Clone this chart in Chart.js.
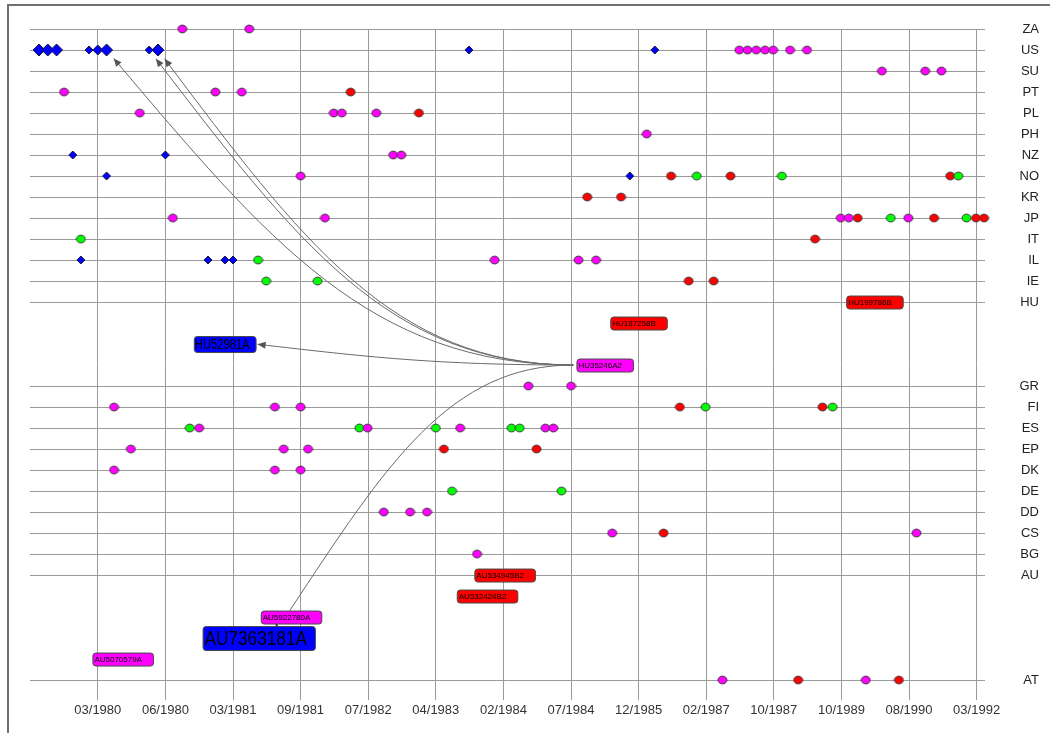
<!DOCTYPE html>
<html>
<head>
<meta charset="utf-8">
<script src="https://cdn.jsdelivr.net/npm/chart.js@4.4.1/dist/chart.umd.min.js"></script>
<style>
  html, body { margin: 0; padding: 0; background: #fff; overflow: hidden; }
  #wrap { position: relative; width: 1050px; height: 733px; }
</style>
</head>
<body>
<div id="wrap"><canvas id="citeChart"></canvas></div>
<script>
// x values are in "tick units": 0 = first date tick, 1 = next one, ...
const dateTicks = ["03/1980", "06/1980", "03/1981", "09/1981", "07/1982", "04/1983", "02/1984",
  "07/1984", "12/1985", "02/1987", "10/1987", "10/1989", "08/1990", "03/1992"];

// rows top to bottom, empty strings are free rows used by the document labels
const countryRows = ["ZA", "US", "SU", "PT", "PL", "PH", "NZ", "NO", "KR", "JP", "IT", "IL", "IE", "HU",
  "", "", "", "GR", "FI", "ES", "EP", "DK", "DE", "DD", "CS", "BG", "AU", "", "", "", "", "AT"];

const magentaDocs = [
  ["ZA", 1.25], ["ZA", 2.24],
  ["US", 9.49], ["US", 9.61], ["US", 9.74], ["US", 9.87], ["US", 9.99], ["US", 10.24], ["US", 10.49],
  ["SU", 11.6], ["SU", 12.24], ["SU", 12.48],
  ["PT", -0.5], ["PT", 1.74], ["PT", 2.13],
  ["PL", 0.62], ["PL", 3.49], ["PL", 3.61], ["PL", 4.12],
  ["PH", 8.12],
  ["NZ", 4.37], ["NZ", 4.49],
  ["NO", 3.0],
  ["JP", 1.11], ["JP", 3.36], ["JP", 10.99], ["JP", 11.11], ["JP", 11.99],
  ["IL", 5.87], ["IL", 7.11], ["IL", 7.37],
  ["GR", 6.37], ["GR", 7.0],
  ["FI", 0.24], ["FI", 2.62], ["FI", 3.0],
  ["ES", 1.5], ["ES", 3.99], ["ES", 5.36], ["ES", 6.62], ["ES", 6.74],
  ["EP", 0.49], ["EP", 2.75], ["EP", 3.11],
  ["DK", 0.24], ["DK", 2.62], ["DK", 3.0],
  ["DD", 4.23], ["DD", 4.62], ["DD", 4.87],
  ["CS", 7.61], ["CS", 12.11],
  ["BG", 5.61],
  ["AT", 9.24], ["AT", 11.36]
];

const greenDocs = [
  ["NO", 8.86], ["NO", 10.12], ["NO", 12.73],
  ["JP", 11.73], ["JP", 12.85],
  ["IT", -0.25],
  ["IL", 2.37],
  ["IE", 2.49], ["IE", 3.25],
  ["FI", 8.99], ["FI", 10.87],
  ["ES", 1.36], ["ES", 3.87], ["ES", 5.0], ["ES", 6.12], ["ES", 6.24],
  ["DE", 5.24], ["DE", 6.86]
];

const redDocs = [
  ["PT", 3.74],
  ["PL", 4.75],
  ["NO", 8.48], ["NO", 9.36], ["NO", 12.61],
  ["KR", 7.24], ["KR", 7.74],
  ["JP", 11.24], ["JP", 12.37], ["JP", 12.99], ["JP", 13.11],
  ["IT", 10.61],
  ["IE", 8.74], ["IE", 9.11],
  ["FI", 8.61], ["FI", 10.72],
  ["EP", 5.12], ["EP", 6.49],
  ["CS", 8.37],
  ["AT", 10.36], ["AT", 11.85]
];

// priority documents: [country, x, family weight]
const blueDocs = [
  ["US", -0.87, 3], ["US", -0.74, 3], ["US", -0.61, 3], ["US", -0.13, 1], ["US", 0.0, 2],
  ["US", 0.13, 3], ["US", 0.76, 1], ["US", 0.89, 3], ["US", 5.49, 1], ["US", 8.24, 1],
  ["NZ", -0.37, 1], ["NZ", 1.0, 1],
  ["NO", 0.13, 1], ["NO", 7.87, 1],
  ["IL", -0.25, 1], ["IL", 1.63, 1], ["IL", 1.88, 1], ["IL", 2.0, 1]
];

// labelled documents: [number, row, x, colour group, size]
const docLabels = [
  ["HU199786B", 13, 11.07, "red", "small"],
  ["HU187258B", 14, 7.58, "red", "small"],
  ["HU52981A", 15, 1.42, "blue", "medium"],
  ["HU35246A2", 16, 7.08, "magenta", "small"],
  ["AU534945B2", 26, 5.57, "red", "small"],
  ["AU532424B2", 27, 5.31, "red", "small"],
  ["AU5922780A", 28, 2.41, "magenta", "small"],
  ["AU7363181A", 29, 1.55, "blue", "large"],
  ["AU5070579A", 30, -0.08, "magenta", "small"]
];

// citations: from a labelled document to a point [country, x] or another label
const citeLinks = [
  ["HU35246A2", ["US", 0.13]],
  ["HU35246A2", ["US", 0.76]],
  ["HU35246A2", ["US", 0.89]],
  ["HU35246A2", "HU52981A"],
  ["HU35246A2", "AU5922780A"]
];

const colours = { magenta: "#ff00ff", red: "#ff0000", green: "#00ff00", blue: "#0000ff" };
const boxStyles = {
  small: { font: 8, scale: 1, h: 13, padL: 2, padR: 11 },
  medium: { font: 14, scale: 0.8, h: 16, padL: 1, padR: 6 },
  large: { font: 20, scale: 0.86, h: 24, padL: 2, padR: 8 }
};
const FONT = "'Liberation Sans', Arial, sans-serif";

const rowOf = (code) => countryRows.indexOf(code);
const toPoints = (list) => list.map((d) => ({ x: d[1], y: rowOf(d[0]), n: d[2] }));

function dotImage(fill) {
  const c = document.createElement("canvas");
  c.width = 11;
  c.height = 10;
  const g = c.getContext("2d");
  g.beginPath();
  g.ellipse(5.5, 5, 4.5, 3.9, 0, 0, Math.PI * 2);
  g.fillStyle = fill;
  g.fill();
  g.lineWidth = 1;
  g.strokeStyle = "#3a3a3a";
  g.stroke();
  return c;
}

function labelBox(chart, name) {
  const d = docLabels.find((l) => l[0] === name);
  const st = boxStyles[d[4]];
  const ctx = chart.ctx;
  ctx.save();
  ctx.font = st.font + "px " + FONT;
  const tw = ctx.measureText(d[0]).width * st.scale;
  ctx.restore();
  const x = chart.scales.x.getPixelForValue(d[2]);
  const cy = chart.scales.y.getPixelForValue(d[1]);
  return { x, y: cy - st.h / 2, w: st.padL + tw + st.padR, h: st.h, st, d };
}

function arrowHead(ctx, tip, from) {
  const a = Math.atan2(tip.y - from.y, tip.x - from.x);
  ctx.beginPath();
  ctx.moveTo(tip.x, tip.y);
  ctx.lineTo(tip.x - 8 * Math.cos(a) + 3.5 * Math.sin(a), tip.y - 8 * Math.sin(a) - 3.5 * Math.cos(a));
  ctx.lineTo(tip.x - 8 * Math.cos(a) - 3.5 * Math.sin(a), tip.y - 8 * Math.sin(a) + 3.5 * Math.cos(a));
  ctx.closePath();
  ctx.fill();
}

const linksPlugin = {
  id: "citeLinks",
  beforeDatasetsDraw(chart) {
    const { ctx } = chart;
    const { x: xs, y: ys } = chart.scales;
    ctx.save();
    ctx.strokeStyle = "#6a6a6a";
    ctx.fillStyle = "#555";
    ctx.lineWidth = 1;
    citeLinks.forEach(([from, to]) => {
      const sb = labelBox(chart, from);
      const S = { x: sb.x - 3, y: sb.y + sb.h / 2 };
      let T0, gap, head = true;
      if (Array.isArray(to)) {
        T0 = { x: xs.getPixelForValue(to[1]), y: ys.getPixelForValue(rowOf(to[0])) };
        gap = 11;
      } else {
        const tb = labelBox(chart, to);
        if (Math.abs(tb.y - sb.y) > 60) {
          T0 = { x: tb.x + tb.w * 0.48, y: tb.y };
          gap = 0;
          head = false;
        } else {
          T0 = { x: tb.x + tb.w, y: tb.y + tb.h / 2 };
          gap = 2;
        }
      }
      const dx = T0.x - S.x, dy = T0.y - S.y;
      const C1 = { x: S.x + 0.435 * dx, y: S.y };
      const C2 = { x: T0.x - 0.342 * dx, y: T0.y - 0.6 * dy };
      const len = Math.hypot(C2.x - T0.x, C2.y - T0.y);
      const tip = { x: T0.x + (C2.x - T0.x) / len * gap, y: T0.y + (C2.y - T0.y) / len * gap };
      ctx.beginPath();
      ctx.moveTo(S.x, S.y);
      ctx.bezierCurveTo(C1.x, C1.y, C2.x, C2.y, tip.x, tip.y);
      ctx.stroke();
      if (head) arrowHead(ctx, tip, C2);
    });
    // short joint between the two stacked AU labels
    const a = labelBox(chart, "AU5922780A");
    const b = labelBox(chart, "AU7363181A");
    ctx.fillStyle = "#333";
    ctx.fillRect(a.x + 15, a.y + a.h - 1, 2, b.y - a.y - a.h + 2);
    ctx.restore();
  },
  afterDatasetsDraw(chart) {
    const { ctx } = chart;
    ctx.save();
    docLabels.forEach((d) => {
      const b = labelBox(chart, d[0]);
      ctx.beginPath();
      ctx.roundRect(b.x + 0.5, b.y + 0.5, b.w, b.h, 3);
      ctx.fillStyle = colours[d[3]];
      ctx.fill();
      ctx.strokeStyle = "#4a4a4a";
      ctx.lineWidth = 1;
      ctx.stroke();
      ctx.save();
      ctx.translate(b.x + b.st.padL, b.y + b.h / 2 + 1);
      ctx.scale(b.st.scale, 1);
      ctx.font = b.st.font + "px " + FONT;
      ctx.textBaseline = "middle";
      ctx.fillStyle = "#000";
      ctx.fillText(d[0], 0, 0);
      ctx.restore();
    });
    ctx.restore();
  },
  beforeDraw(chart) {
    const { ctx } = chart;
    ctx.save();
    ctx.fillStyle = "#fff";
    ctx.fillRect(0, 0, chart.width, chart.height);
    ctx.fillStyle = "#707070";
    ctx.fillRect(7, 4, 2, chart.height);
    ctx.fillRect(7, 4, chart.width, 2);
    ctx.restore();
  }
};

const dotSet = (list, colour) => ({
  data: toPoints(list),
  pointStyle: dotImage(colour),
  pointRadius: 5,
  clip: false
});

new Chart(document.getElementById("citeChart"), {
  type: "scatter",
  data: {
    datasets: [
      dotSet(magentaDocs, colours.magenta),
      dotSet(greenDocs, colours.green),
      dotSet(redDocs, colours.red),
      {
        data: toPoints(blueDocs),
        pointStyle: "rectRot",
        pointRadius: (c) => (c.raw ? 3 + c.raw.n : 4),
        backgroundColor: colours.blue,
        borderColor: "#1a1a3a",
        borderWidth: 1,
        clip: false
      }
    ]
  },
  options: {
    responsive: true,
    maintainAspectRatio: false,
    animation: false,
    events: [],
    layout: { padding: { left: 30, top: 29, right: 11, bottom: 0 } },
    plugins: { legend: { display: false }, tooltip: { enabled: false } },
    scales: {
      x: {
        type: "linear",
        min: -1.003,
        max: 13.124,
        afterBuildTicks: (s) => { s.ticks = dateTicks.map((_, i) => ({ value: i })); },
        afterFit: (s) => { s.height = 33; },
        grid: { color: "#9a9a9a", lineWidth: 1, drawTicks: false },
        border: { display: false },
        ticks: {
          autoSkip: false,
          maxRotation: 0,
          padding: 3,
          color: "#333",
          font: { family: FONT, size: 13 },
          callback: (v) => dateTicks[v] ?? ""
        }
      },
      y: {
        type: "linear",
        position: "right",
        reverse: true,
        min: 0,
        max: 31.95,
        afterBuildTicks: (s) => {
          s.ticks = countryRows.map((c, i) => (c ? { value: i } : null)).filter(Boolean);
        },
        afterFit: (s) => { s.width = 54; },
        grid: { color: "#9a9a9a", lineWidth: 1, drawTicks: false },
        border: { display: false },
        ticks: {
          autoSkip: false,
          crossAlign: "far",
          padding: 10,
          color: "#222",
          font: { family: FONT, size: 13 },
          callback: (v) => countryRows[v] ?? ""
        }
      }
    }
  },
  plugins: [linksPlugin]
});
</script>
</body>
</html>
